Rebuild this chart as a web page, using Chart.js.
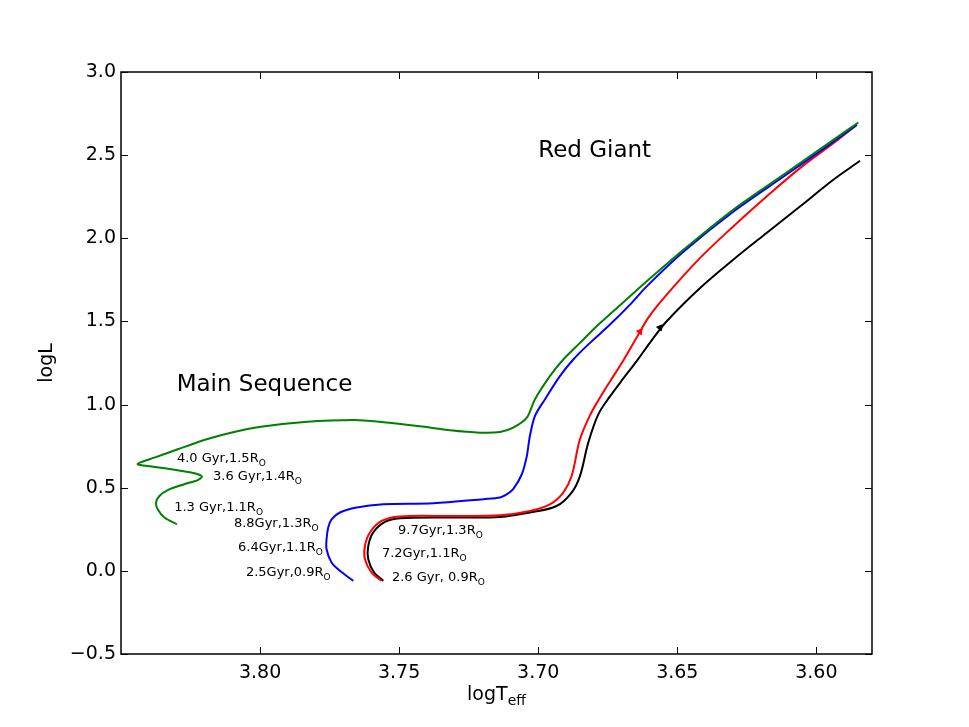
<!DOCTYPE html>
<html>
<head>
<meta charset="utf-8">
<script src="https://cdn.jsdelivr.net/npm/chart.js@4/dist/chart.umd.min.js"></script>
<style>
html, body { margin: 0; padding: 0; background: #fff; }
canvas { display: block; }
</style>
</head>
<body>
<canvas id="chart" width="969" height="727"></canvas>
<script>
// evolutionary tracks, logTeff / logL
const greenT = [3.8299, 3.8344, 3.8368, 3.8374, 3.8362, 3.8332, 3.8272, 3.8224, 3.8209, 3.8236, 3.8320, 3.8404, 3.8440, 3.8428, 3.8380, 3.8296, 3.8201, 3.8105, 3.7997, 3.7841, 3.7661, 3.7565, 3.7425, 3.7317, 3.7209, 3.7137, 3.7090, 3.7041, 3.7012, 3.6958, 3.6910, 3.6850, 3.6790, 3.6730, 3.6670, 3.6610, 3.6478, 3.6299, 3.6119, 3.5939, 3.5849];
const greenL = [0.280, 0.321, 0.371, 0.411, 0.450, 0.486, 0.521, 0.546, 0.567, 0.587, 0.611, 0.630, 0.641, 0.654, 0.681, 0.731, 0.787, 0.831, 0.867, 0.895, 0.907, 0.895, 0.869, 0.845, 0.831, 0.835, 0.861, 0.921, 1.031, 1.171, 1.271, 1.371, 1.471, 1.561, 1.651, 1.741, 1.931, 2.172, 2.382, 2.592, 2.696];

const blueT = [3.7665, 3.7713, 3.7743, 3.7761, 3.7761, 3.7755, 3.7743, 3.7713, 3.7653, 3.7557, 3.7377, 3.7197, 3.7137, 3.7112, 3.7090, 3.7059, 3.7041, 3.7030, 3.7012, 3.6976, 3.6922, 3.6874, 3.6814, 3.6742, 3.6670, 3.6610, 3.6478, 3.6299, 3.6119, 3.5939, 3.5855];
const blueL = [-0.060, 0.000, 0.050, 0.130, 0.190, 0.261, 0.310, 0.351, 0.381, 0.400, 0.406, 0.431, 0.441, 0.461, 0.491, 0.581, 0.690, 0.811, 0.931, 1.031, 1.171, 1.271, 1.371, 1.481, 1.601, 1.711, 1.919, 2.160, 2.370, 2.580, 2.682];

const redT = [3.7563, 3.7599, 3.7623, 3.7623, 3.7605, 3.7563, 3.7497, 3.7317, 3.7137, 3.7030, 3.6958, 3.6910, 3.6880, 3.6850, 3.6814, 3.6784, 3.6742, 3.6694, 3.6646, 3.6604, 3.6538, 3.6418, 3.6299, 3.6179, 3.6059, 3.5939, 3.5855];
const redL = [-0.060, -0.010, 0.070, 0.150, 0.231, 0.300, 0.327, 0.330, 0.334, 0.360, 0.400, 0.471, 0.570, 0.791, 0.935, 1.025, 1.139, 1.265, 1.403, 1.523, 1.661, 1.882, 2.071, 2.251, 2.422, 2.572, 2.682];

const blackT = [3.7557, 3.7590, 3.7611, 3.7611, 3.7593, 3.7551, 3.7497, 3.7317, 3.7137, 3.7030, 3.6934, 3.6880, 3.6850, 3.6820, 3.6784, 3.6742, 3.6694, 3.6646, 3.6598, 3.6538, 3.6418, 3.6299, 3.6179, 3.6059, 3.5939, 3.5843];
const blackL = [-0.060, -0.010, 0.070, 0.150, 0.231, 0.294, 0.316, 0.321, 0.324, 0.351, 0.390, 0.471, 0.570, 0.771, 0.941, 1.049, 1.157, 1.261, 1.373, 1.501, 1.701, 1.871, 2.032, 2.191, 2.352, 2.466];

// little direction arrows on the red and black giant branches
const arrowT = [3.6634, 3.6562];
const arrowL = [1.439, 1.463];

const xTicks = [3.80, 3.75, 3.70, 3.65, 3.60];
const yTicks = [-0.5, 0.0, 0.5, 1.0, 1.5, 2.0, 2.5, 3.0];

// age / radius notes: text, subscript, logTeff, logL
const notes = [
    ["4.0 Gyr,1.5R", "O", 3.8299, 0.653],
    ["3.6 Gyr,1.4R", "O", 3.8169, 0.545],
    ["1.3 Gyr,1.1R", "O", 3.8309, 0.358],
    ["8.8Gyr,1.3R", "O", 3.8094, 0.262],
    ["6.4Gyr,1.1R", "O", 3.8079, 0.118],
    ["2.5Gyr,0.9R", "O", 3.8051, -0.032],
    ["9.7Gyr,1.3R", "O", 3.7504, 0.220],
    ["7.2Gyr,1.1R", "O", 3.7562, 0.082],
    ["2.6 Gyr, 0.9R", "O", 3.7526, -0.062]
];
const regions = [
    ["Main Sequence", 3.830, 1.084],
    ["Red Giant", 3.700, 2.490]
];

const FONT = "'DejaVu Sans', sans-serif";

function pts(xs, ys) {
    return xs.map((v, i) => ({ x: v, y: ys[i] }));
}

function track(data, color, tension) {
    return {
        data: data,
        borderColor: color,
        backgroundColor: color,
        borderWidth: 2,
        showLine: true,
        pointRadius: 0,
        tension: tension,
        fill: false
    };
}

const frame = {
    id: "frame",
    afterDatasetsDraw(chart) {
        const { ctx, chartArea: a, scales: { x, y } } = chart;
        ctx.save();
        ctx.strokeStyle = "#000";
        ctx.lineWidth = 1;
        ctx.beginPath();
        xTicks.forEach(v => {
            const px = Math.round(x.getPixelForValue(v)) + 0.5;
            ctx.moveTo(px, a.bottom); ctx.lineTo(px, a.bottom - 7);
            ctx.moveTo(px, a.top); ctx.lineTo(px, a.top + 7);
        });
        yTicks.forEach(v => {
            const py = Math.round(y.getPixelForValue(v)) + 0.5;
            ctx.moveTo(a.left, py); ctx.lineTo(a.left + 7, py);
            ctx.moveTo(a.right, py); ctx.lineTo(a.right - 7, py);
        });
        ctx.stroke();
        ctx.lineWidth = 1.5;
        ctx.strokeRect(a.left, a.top, a.right - a.left, a.bottom - a.top);

        ctx.fillStyle = "#000";
        ctx.textBaseline = "alphabetic";
        ctx.textAlign = "left";
        notes.forEach(([txt, sub, tx, ly]) => {
            const px = x.getPixelForValue(tx);
            const py = y.getPixelForValue(ly);
            ctx.font = "13px " + FONT;
            ctx.fillText(txt, px, py);
            const w = ctx.measureText(txt).width;
            ctx.font = "9px " + FONT;
            ctx.fillText(sub, px + w, py + 4);
        });
        ctx.font = "23px " + FONT;
        regions.forEach(([txt, tx, ly]) => {
            ctx.fillText(txt, x.getPixelForValue(tx), y.getPixelForValue(ly));
        });

        // axis titles
        ctx.font = "19px " + FONT;
        const main = "logT", sub = "eff";
        const w1 = ctx.measureText(main).width;
        ctx.font = "14px " + FONT;
        const w2 = ctx.measureText(sub).width;
        const cx = (a.left + a.right) / 2;
        const bx = cx - (w1 + w2) / 2;
        ctx.font = "19px " + FONT;
        ctx.fillText(main, bx, a.bottom + 46);
        ctx.font = "14px " + FONT;
        ctx.fillText(sub, bx + w1, a.bottom + 51);

        ctx.translate(a.left - 74, (a.top + a.bottom) / 2);
        ctx.rotate(-Math.PI / 2);
        ctx.font = "19px " + FONT;
        ctx.textAlign = "center";
        ctx.textBaseline = "middle";
        ctx.fillText("logL", 0, 0);
        ctx.restore();
    }
};

new Chart(document.getElementById("chart").getContext("2d"), {
    type: "scatter",
    data: {
        datasets: [
            track(pts(greenT, greenL), "#008000", 0.25),
            track(pts(blueT, blueL), "#0000ff", 0.3),
            track(pts(redT, redL), "#ff0000", 0.35),
            track(pts(blackT, blackL), "#000000", 0.35),
            {
                data: pts(arrowT, arrowL),
                showLine: false,
                pointStyle: "triangle",
                pointRadius: 3.5,
                rotation: 38,
                backgroundColor: ["#ff0000", "#000000"],
                borderColor: ["#ff0000", "#000000"],
                borderWidth: 1
            }
        ]
    },
    options: {
        responsive: false,
        devicePixelRatio: 1,
        animation: false,
        layout: { padding: { left: 0, top: 72, right: 97, bottom: 0 } },
        plugins: { legend: { display: false }, tooltip: { enabled: false } },
        scales: {
            x: {
                type: "linear",
                reverse: true,
                min: 3.58,
                max: 3.85,
                grid: { display: false, drawTicks: false },
                border: { display: false },
                afterBuildTicks: s => { s.ticks = xTicks.map(v => ({ value: v })); },
                afterFit: s => { s.height = 73; },
                ticks: {
                    padding: 8,
                    color: "#000",
                    font: { family: FONT, size: 19 },
                    maxRotation: 0,
                    callback: v => v.toFixed(2)
                }
            },
            y: {
                type: "linear",
                min: -0.5,
                max: 3.0,
                grid: { display: false, drawTicks: false },
                border: { display: false },
                afterBuildTicks: s => { s.ticks = yTicks.map(v => ({ value: v })); },
                afterFit: s => { s.width = 121; },
                ticks: {
                    padding: 5,
                    color: "#000",
                    font: { family: FONT, size: 19 },
                    callback: v => v.toFixed(1).replace("-", "\u2212")
                }
            }
        }
    },
    plugins: [frame]
});
</script>
</body>
</html>
